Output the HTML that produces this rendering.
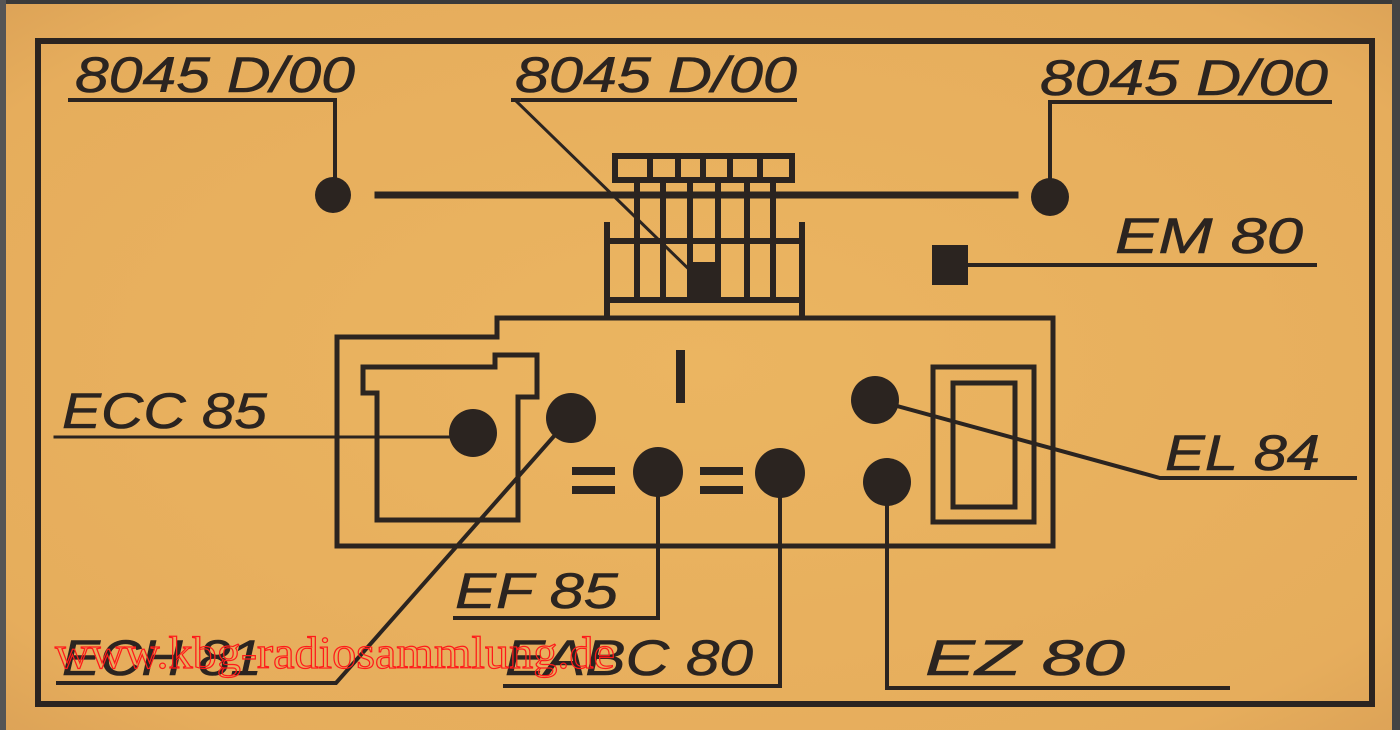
<!DOCTYPE html>
<html><head><meta charset="utf-8"><style>
html,body{margin:0;padding:0;background:#e6b064;}
svg{display:block}
</style></head><body>
<svg width="1400" height="730" viewBox="0 0 1400 730" xmlns="http://www.w3.org/2000/svg">
<defs>
<radialGradient id="bg" cx="50%" cy="50%" r="75%">
<stop offset="0" stop-color="#ebb561"/><stop offset="0.8" stop-color="#e6ad5c"/><stop offset="1" stop-color="#d99f55"/>
</radialGradient>
</defs>
<rect x="0" y="0" width="1400" height="730" fill="url(#bg)"/>
<rect x="0" y="0" width="1400" height="4" fill="#3a3a3a"/>
<rect x="0" y="0" width="6" height="730" fill="#555"/>
<rect x="1392" y="0" width="8" height="730" fill="#444"/>
<g stroke="#2b2420" fill="none" stroke-linecap="square">
<rect x="38" y="41" width="1334" height="663" stroke-width="6"/>
<path d="M70 100 H335 V180" stroke-width="4"/>
<path d="M513 100 H795" stroke-width="4"/>
<path d="M515 100 L700 280" stroke-width="3"/>
<path d="M1330 102 H1050 V185" stroke-width="4"/>
<path d="M378 195 H1015" stroke-width="7"/>
<rect x="615" y="156" width="177" height="24" stroke-width="6"/>
<path d="M650 156V180M678 156V180M703 156V180M730 156V180M760 156V180" stroke-width="6"/>
<path d="M637 180V300M663 180V300M690 180V300M718 180V300M747 180V300M773 180V300" stroke-width="6"/>
<path d="M607 225V315M802 225V315M607 241H802M607 300H802" stroke-width="6"/>
<path d="M968 265H1315" stroke-width="4"/>
<path d="M337 337H497V318H1053V546H337Z" stroke-width="5"/>
<path d="M363 367H495V355H537V397H518V520H377V393H363Z" stroke-width="5"/>
<rect x="933" y="367" width="101" height="155" stroke-width="5"/>
<rect x="953" y="383" width="62" height="124" stroke-width="5"/>
<path d="M55 437H470" stroke-width="3"/>
<path d="M570 418L336 683H58" stroke-width="4"/>
<path d="M658 472V618H455" stroke-width="4"/>
<path d="M780 472V686H505" stroke-width="4"/>
<path d="M875 400L1160 478H1355" stroke-width="4"/>
<path d="M887 482V688H1228" stroke-width="4"/>
</g>
<g fill="#2b2420">
<circle cx="333" cy="195" r="18"/>
<circle cx="1050" cy="197" r="19"/>
<rect x="690" y="262" width="31" height="36"/>
<rect x="932" y="245" width="36" height="40"/>
<circle cx="473" cy="433" r="24"/>
<circle cx="571" cy="418" r="25"/>
<circle cx="658" cy="472" r="25"/>
<circle cx="780" cy="473" r="25"/>
<circle cx="875" cy="400" r="24"/>
<circle cx="887" cy="482" r="24"/>
<rect x="676" y="350" width="9" height="53"/>
<rect x="572" y="467" width="43" height="8"/><rect x="572" y="486" width="43" height="8"/>
<rect x="700" y="467" width="43" height="8"/><rect x="700" y="486" width="43" height="8"/>
</g>
<g fill="#2b2420" font-family="Liberation Sans, sans-serif" font-style="italic" font-size="50" stroke="#2b2420" stroke-width="0.6">
<text x="75" y="92" textLength="280" lengthAdjust="spacingAndGlyphs">8045 D/00</text>
<text x="515" y="92" textLength="282" lengthAdjust="spacingAndGlyphs">8045 D/00</text>
<text x="1040" y="95" textLength="288" lengthAdjust="spacingAndGlyphs">8045 D/00</text>
<text x="1115" y="253" textLength="188" lengthAdjust="spacingAndGlyphs">EM 80</text>
<text x="62" y="428" textLength="205" lengthAdjust="spacingAndGlyphs">ECC 85</text>
<text x="1165" y="470" textLength="155" lengthAdjust="spacingAndGlyphs">EL 84</text>
<text x="455" y="608" textLength="163" lengthAdjust="spacingAndGlyphs">EF 85</text>
<text x="62" y="675" textLength="200" lengthAdjust="spacingAndGlyphs">ECH 81</text>
<text x="505" y="675" textLength="248" lengthAdjust="spacingAndGlyphs">EABC 80</text>
<text x="925" y="675" textLength="200" lengthAdjust="spacingAndGlyphs">EZ 80</text>
</g>
<text x="55" y="668" font-family="Liberation Serif, serif" font-size="46" fill="none" stroke="#ff1a1a" stroke-width="1.2" textLength="560" lengthAdjust="spacingAndGlyphs">www.kbg-radiosammlung.de</text>
</svg>
</body></html>
